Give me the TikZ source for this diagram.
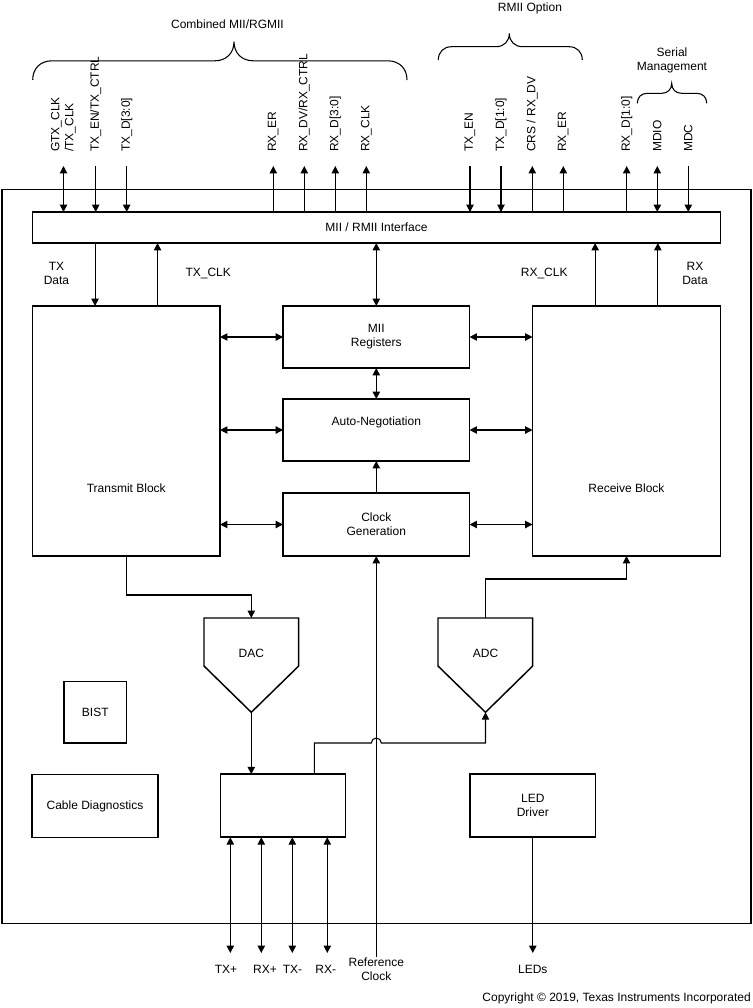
\documentclass[tikz,border=0pt]{standalone}
\usepackage{fontspec}
\setmainfont{Liberation Sans}
\usetikzlibrary{arrows.meta,calc}
% curly brace over a group of pins: x1, x2, tip x, base y, height
\newcommand{\sigbrace}[5]{%
  \draw[bracepath] (#1,#4) .. controls (#1,{#4-0.6*#5}) and ({#1+0.4*#5},{#4-#5}) .. ({#1+#5},{#4-#5})
    -- ({#3-#5},{#4-#5}) .. controls ({#3-0.4*#5},{#4-#5}) and (#3,{#4-1.4*#5}) .. (#3,{#4-2*#5})
    .. controls (#3,{#4-1.4*#5}) and ({#3+0.4*#5},{#4-#5}) .. ({#3+#5},{#4-#5})
    -- ({#2-#5},{#4-#5}) .. controls ({#2-0.4*#5},{#4-#5}) and (#2,{#4-0.6*#5}) .. (#2,#4);}

\begin{document}
\begin{tikzpicture}[
  x=0.75pt,y=-0.75pt,
  font=\fontsize{9}{10.5}\selectfont,
  box/.style={draw,line width=1.1pt,inner sep=0pt,outer sep=0pt,align=center},
  sz/.style 2 args={minimum width=#1*0.75pt,minimum height=#2*0.75pt},
  conv/.style={draw,line width=1.1pt,line join=miter},
  sig/.style={rotate=90,anchor=west,inner sep=0pt,align=left},
  lbl/.style={inner sep=0pt,align=center},
  arrow/.style={-{Triangle[length=5.5pt,width=5.5pt]},line width=0.8pt},
  twoway/.style={{Triangle[length=5.5pt,width=5.5pt]}-{Triangle[length=5.5pt,width=5.5pt]},line width=0.8pt},
  bracepath/.style={line width=0.8pt}
]
\useasboundingbox (0,0) rectangle (753,1008);

% Chip outline and MII/RMII interface bar.
\node[box,sz={749}{734}] (phy) at (376.5,556.5) {};
\node[box,sz={688}{31}] (iface) at (376.5,227.5) {MII / RMII Interface};

% Digital core.
\node[box,sz={187.5}{250}] (txblk) at (126.3,431) {};
\node[lbl] (txtext) at ($(txblk)+(0,57)$) {Transmit Block};
\node[box,sz={188}{250}] (rxblk) at (626.5,431) {};
\node[lbl] (rxtext) at ($(rxblk)+(0,57)$) {Receive Block};
\node[box,sz={186.5}{62}] (miireg) at (376.3,337) {MII\\Registers};
\node[box,sz={186.5}{62}] (autoneg) at (376.3,430) {};
\node[lbl] (antext) at ($(autoneg)+(0,-8)$) {Auto-Negotiation};
\node[box,sz={186.5}{63}] (clkgen) at (376.3,524.5) {Clock\\Generation};

% Analog front end and misc blocks.
\draw[conv] (204,618) -- (298.7,618) -- (298.7,666) -- (251.3,712.3) -- (204,666) -- cycle;
\node[lbl] (dac) at (251.3,653) {DAC};
\coordinate (dacin) at (251.3,618);
\coordinate (dacout) at (251.3,712.3);
\draw[conv] (438,618) -- (532.7,618) -- (532.7,666) -- (485.5,712.3) -- (438,666) -- cycle;
\node[lbl] (adc) at (485.5,653) {ADC};
\coordinate (adcin) at (485.5,618);
\coordinate (adcout) at (485.5,712.3);
\node[box,sz={62.7}{61.3}] (bist) at (95.3,712.3) {BIST};
\node[box,sz={125.7}{63}] (cablediag) at (95,806.2) {Cable Diagnostics};
\node[box,sz={125.4}{63}] (hybrid) at (283,805.7) {};
\node[box,sz={125.7}{63}] (leddrv) at (532.8,805.5) {LED\\Driver};

% Pin groups on top.
\sigbrace{32.7}{407}{234}{80}{19.2}
\sigbrace{438.3}{582.3}{509.3}{60}{13.3}
\sigbrace{637.3}{706.7}{671.7}{103.3}{10}
\node[lbl] (combined) at (227.5,24.3) {Combined MII/RGMII};
\node[lbl] (rmiiopt) at (530,8.3) {RMII Option};
\node[lbl] (serial) at (672,60.8) {Serial\\Management};

\node[sig] (gtx) at (63.5,152) {GTX\_CLK\\/TX\_CLK};
\node[sig] (txctrl) at (95.7,152) {TX\_EN/TX\_CTRL};
\node[sig] (txdfour) at (126.7,152) {TX\_D[3:0]};
\node[sig] (rxer) at (273.3,152) {RX\_ER};
\node[sig] (rxctrl) at (304.3,152) {RX\_DV/RX\_CTRL};
\node[sig] (rxdfour) at (335.3,152) {RX\_D[3:0]};
\node[sig] (rxclkpin) at (366.3,152) {RX\_CLK};
\node[sig] (txen) at (470,152) {TX\_EN};
\node[sig] (txdtwo) at (501,152) {TX\_D[1:0]};
\node[sig] (crs) at (532.3,152) {CRS / RX\_DV};
\node[sig] (rmiier) at (563.3,152) {RX\_ER};
\node[sig] (rxdtwo) at (626.7,152) {RX\_D[1:0]};
\node[sig] (mdio) at (657.3,152) {MDIO};
\node[sig] (mdc) at (688.3,152) {MDC};

\draw[twoway] ([yshift=-10.5pt]gtx.west) -- (gtx.west |- iface.north);
\draw[arrow] ([yshift=-10.5pt]txctrl.west) -- (txctrl.west |- iface.north);
\draw[arrow] ([yshift=-10.5pt]txdfour.west) -- (txdfour.west |- iface.north);
\draw[arrow] (rxer.west |- iface.north) -- ([yshift=-10.5pt]rxer.west);
\draw[arrow] (rxctrl.west |- iface.north) -- ([yshift=-10.5pt]rxctrl.west);
\draw[arrow] (rxdfour.west |- iface.north) -- ([yshift=-10.5pt]rxdfour.west);
\draw[arrow] (rxclkpin.west |- iface.north) -- ([yshift=-10.5pt]rxclkpin.west);
\draw[arrow] ([yshift=-10.5pt]txen.west) -- (txen.west |- iface.north);
\draw[arrow] ([yshift=-10.5pt]txdtwo.west) -- (txdtwo.west |- iface.north);
\draw[arrow] (crs.west |- iface.north) -- ([yshift=-10.5pt]crs.west);
\draw[arrow] (rmiier.west |- iface.north) -- ([yshift=-10.5pt]rmiier.west);
\draw[arrow] (rxdtwo.west |- iface.north) -- ([yshift=-10.5pt]rxdtwo.west);
\draw[twoway] ([yshift=-10.5pt]mdio.west) -- (mdio.west |- iface.north);
\draw[arrow] ([yshift=-10.5pt]mdc.west) -- (mdc.west |- iface.north);

% Interface to transmit/receive blocks.
\coordinate (txdata) at ($(txblk.north west)!1/3!(txblk.north east)$);
\coordinate (txclk) at ($(txblk.north west)!2/3!(txblk.north east)$);
\coordinate (rxclk) at ($(rxblk.north west)!1/3!(rxblk.north east)$);
\coordinate (rxdata) at ($(rxblk.north west)!2/3!(rxblk.north east)$);
\draw[arrow] (txdata |- iface.south) -- (txdata);
\draw[arrow] (txclk) -- (txclk |- iface.south);
\draw[arrow] (rxclk) -- (rxclk |- iface.south);
\draw[arrow] (rxdata) -- (rxdata |- iface.south);
\node[lbl] (txdatalbl) at (56.5,273) {TX\\Data};
\node[lbl] (txclklbl) at (208.2,273) {TX\_CLK};
\node[lbl] (rxclklbl) at (544.2,273) {RX\_CLK};
\node[lbl] (rxdatalbl) at (695,273) {RX\\Data};

% Center column.
\draw[twoway] (miireg.north) -- (miireg.north |- iface.south);
\draw[twoway] (miireg) -- (autoneg);
\draw[arrow] (clkgen) -- (autoneg);
\draw[twoway] (miireg.west) -- (miireg.west -| txblk.east);
\draw[twoway] (miireg.east) -- (miireg.east -| rxblk.west);
\draw[twoway] (autoneg.west) -- (autoneg.west -| txblk.east);
\draw[twoway] (autoneg.east) -- (autoneg.east -| rxblk.west);
\draw[twoway] (clkgen.west) -- (clkgen.west -| txblk.east);
\draw[twoway] (clkgen.east) -- (clkgen.east -| rxblk.west);

% Analog paths.
\draw[arrow] (txblk.south) |- ($(dacin)+(0,-23)$) -- (dacin);
\draw[arrow] (adcin) -- ($(adcin)+(0,-39)$) -| (rxblk.south);
\draw[arrow] (dacout) -- (dacout |- hybrid.north);
\coordinate (hybtap) at ($(hybrid.north)+(31.3,0)$);
\coordinate (hop) at (376.3,743);
\draw[arrow] (hybtap) |- ($(hop)+(-5,0)$) arc[start angle=180,end angle=360,radius=5] -| (adcout);

% Pins at the bottom.
\node[lbl] (txplus) at (226,969) {TX+};
\node[lbl] (rxplus) at (265,969) {RX+};
\node[lbl] (txminus) at (292.5,969) {TX-};
\node[lbl] (rxminus) at (325.7,969) {RX-};
\node[lbl] (refclk) at (376.3,969) {Reference\\Clock};
\node[lbl] (leds) at (532.8,969) {LEDs};
\coordinate (txpend) at (230.3,953);
\coordinate (rxpend) at (261.3,953);
\coordinate (txmend) at (292.3,953);
\coordinate (rxmend) at (327.3,953);
\coordinate (ledend) at (532.8,953);
\draw[twoway] (txpend |- hybrid.south) -- (txpend);
\draw[twoway] (rxpend |- hybrid.south) -- (rxpend);
\draw[twoway] (txmend |- hybrid.south) -- (txmend);
\draw[twoway] (rxmend |- hybrid.south) -- (rxmend);
\draw[arrow] (refclk.north) -- (clkgen.south);
\draw[arrow] (leddrv.south) -- (ledend);

\node[lbl,anchor=east] (copyright) at (751,998) {Copyright © 2019, Texas Instruments Incorporated};
\end{tikzpicture}
\end{document}
